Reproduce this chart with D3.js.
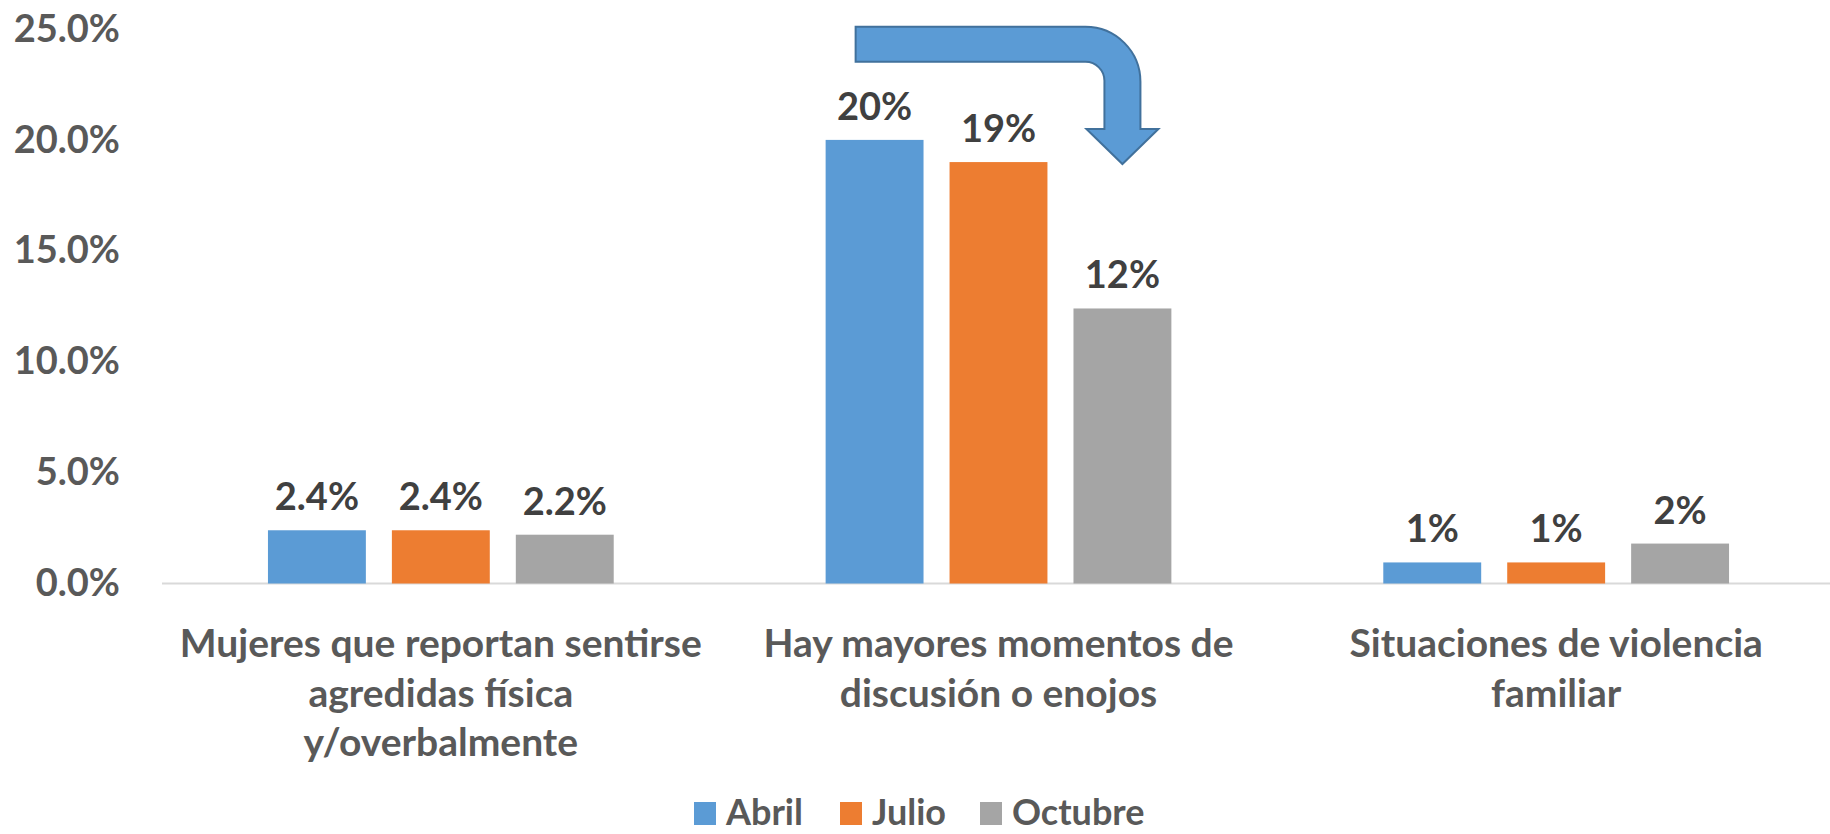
<!DOCTYPE html>
<html>
<head>
<meta charset="utf-8">
<script src="https://cdn.jsdelivr.net/npm/d3@7"></script>
<style>
  body { margin: 0; background: #fff; }
  svg text { font-family: Lato, "Open Sans", sans-serif; font-weight: bold; }
</style>
</head>
<body>
<svg id="chart" width="1830" height="834"></svg>
<script>
// data
var categories = ["Mujeres que reportan sentirse agredidas física y/overbalmente",
                  "Hay mayores momentos de discusión o enojos",
                  "Situaciones de violencia familiar"];
var categoryLines = [["Mujeres que reportan sentirse", "agredidas física", "y/overbalmente"],
                     ["Hay mayores momentos de", "discusión o enojos"],
                     ["Situaciones de violencia", "familiar"]];
var series = ["Abril", "Julio", "Octubre"];
var abril = [0.024, 0.20, 0.0095];
var julio = [0.024, 0.19, 0.0095];
var octubre = [0.022, 0.124, 0.018];
var abrilLabels = ["2.4%", "20%", "1%"];
var julioLabels = ["2.4%", "19%", "1%"];
var octubreLabels = ["2.2%", "12%", "2%"];
var yTicks = [0, 0.05, 0.10, 0.15, 0.20, 0.25];
var colors = ["#5B9BD5", "#ED7D31", "#A5A5A5"];

var values = [abril, julio, octubre];
var labels = [abrilLabels, julioLabels, octubreLabels];

var svg = d3.select("#chart");

var y = d3.scaleLinear().domain([0, 0.25]).range([583.5, 29]);

var x0 = d3.scaleBand()
  .domain(categories)
  .range([162, 1835])
  .paddingInner(0.38)
  .paddingOuter(0.19);

var x1 = d3.scaleBand()
  .domain(series)
  .range([0, x0.bandwidth()])
  .paddingInner(0.21);

var color = d3.scaleOrdinal().domain(series).range(colors);

// y axis labels only
var yAxis = svg.append("g")
  .attr("transform", "translate(120,0)")
  .call(d3.axisLeft(y).tickValues(yTicks).tickFormat(d3.format(".1%")).tickSize(0).tickPadding(0));
yAxis.select(".domain").remove();
yAxis.selectAll("text")
  .style("font-size", "38px")
  .style("font-family", "Lato, sans-serif")
  .style("font-weight", "bold")
  .attr("fill", "#595959");

// baseline
svg.append("line")
  .attr("x1", 162).attr("x2", 1830)
  .attr("y1", y(0)).attr("y2", y(0))
  .style("stroke", "#D9D9D9").style("stroke-width", 2);

// bars
var rows = [];
categories.forEach(function(c, i) {
  series.forEach(function(s, j) {
    rows.push({cat: c, ser: s, v: values[j][i], label: labels[j][i]});
  });
});

svg.append("g").selectAll("rect")
  .data(rows)
  .enter().append("rect")
  .attr("x", function(d) { return x0(d.cat) + x1(d.ser); })
  .attr("y", function(d) { return y(d.v); })
  .attr("width", x1.bandwidth())
  .attr("height", function(d) { return y(0) - y(d.v); })
  .attr("fill", function(d) { return color(d.ser); });

svg.append("g").selectAll("text")
  .data(rows)
  .enter().append("text")
  .attr("text-anchor", "middle")
  .attr("x", function(d) { return x0(d.cat) + x1(d.ser) + x1.bandwidth() / 2; })
  .attr("y", function(d) { return y(d.v) - 20; })
  .attr("fill", "#404040")
  .style("font-size", "38px")
  .text(function(d) { return d.label; });

// category labels
var catG = svg.append("g");
categories.forEach(function(c, i) {
  var cx = x0(c) + x0.bandwidth() / 2;
  var t = catG.append("text")
    .attr("text-anchor", "middle")
    .attr("fill", "#595959")
    .style("font-size", "39px");
  categoryLines[i].forEach(function(line, k) {
    t.append("tspan")
      .attr("x", cx)
      .attr("y", 657 + k * 49.5)
      .text(line);
  });
});

// arrow from Abril to Octubre in second group
var c2 = categories[1];
var ax = x0(c2) + x1("Abril") + 30;
var tipX = x0(c2) + x1("Octubre") + x1.bandwidth() / 2;
var arTop = y(0.251), thick = 35, sw = 36, ro = 55, ri = 19;
var headY = 129, tipY = 164, headW = 36;
var outer = tipX + sw / 2, inner = tipX - sw / 2;
var p = d3.path();
p.moveTo(ax, arTop);
p.lineTo(outer - ro, arTop);
p.arcTo(outer, arTop, outer, arTop + ro, ro);
p.lineTo(outer, headY);
p.lineTo(tipX + headW, headY);
p.lineTo(tipX, tipY);
p.lineTo(tipX - headW, headY);
p.lineTo(inner, headY);
p.lineTo(inner, arTop + thick + ri);
p.arcTo(inner, arTop + thick, inner - ri, arTop + thick, ri);
p.lineTo(ax, arTop + thick);
p.closePath();
svg.append("path")
  .attr("d", p.toString())
  .attr("fill", "#5B9BD5")
  .attr("stroke", "#41719C")
  .attr("stroke-width", 2);

// legend
var legend = svg.append("g").attr("transform", "translate(694,0)");
var offsets = [0, 146, 286];
series.forEach(function(s, i) {
  var g = legend.append("g").attr("transform", "translate(" + offsets[i] + ",0)");
  g.append("rect")
    .attr("x", 0).attr("y", 802)
    .attr("width", 22).attr("height", 23)
    .attr("fill", color(s));
  g.append("text")
    .attr("x", 32).attr("y", 825)
    .attr("fill", "#595959")
    .style("font-size", "36px")
    .text(s);
});
</script>
</body>
</html>
